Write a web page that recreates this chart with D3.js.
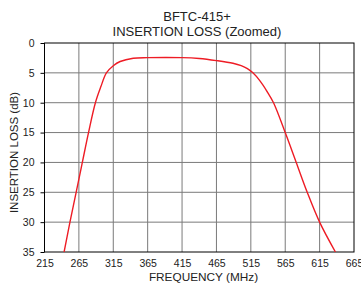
<!DOCTYPE html>
<html>
<head>
<meta charset="utf-8">
<script src="https://cdn.jsdelivr.net/npm/d3@7"></script>
<style>
  body { margin: 0; background: #fff; }
  text { font-family: "Liberation Sans", Arial, sans-serif; fill: #222; }
</style>
</head>
<body>
<svg id="chart"></svg>
<script>
// insertion loss curve
const freqs = [243.5, 252, 261, 270, 279, 289, 297, 305, 315, 325, 344, 365, 415, 440, 465, 489, 501, 510, 518, 528, 538, 548, 565, 581, 597, 615, 638];
const loss  = [35, 30, 25, 20, 15, 10, 7.3, 5, 3.8, 3.1, 2.55, 2.45, 2.45, 2.6, 2.95, 3.4, 3.8, 4.3, 5, 6.3, 8, 10, 15, 20, 25, 30, 35];
const xTicks = [215, 265, 315, 365, 415, 465, 515, 565, 615, 665];
const yTicks = [0, 5, 10, 15, 20, 25, 30, 35];
const titleLines = ['BFTC-415+', 'INSERTION LOSS (Zoomed)'];

const width = 361;
const height = 283;
const margin = {top: 43, right: 7, bottom: 31, left: 44.5};
const w = width - margin.left - margin.right;
const h = height - margin.top - margin.bottom;

const svg = d3.select('#chart')
    .attr('width', width)
    .attr('height', height);

const x = d3.scaleLinear().domain([215, 665]).range([0, w]);
const y = d3.scaleLinear().domain([0, 35]).range([0, h]);

const chart = svg.append('g')
    .attr('transform', `translate(${margin.left},${margin.top})`);

chart.append('defs').append('clipPath')
    .attr('id', 'clip')
  .append('rect')
    .attr('width', w)
    .attr('height', h);

// grid
chart.append('g')
    .selectAll('line')
    .data(xTicks.slice(1, -1))
  .enter().append('line')
    .attr('x1', d => x(d)).attr('x2', d => x(d))
    .attr('y1', 0).attr('y2', h)
    .attr('stroke', '#7a7a7a');

chart.append('g')
    .selectAll('line')
    .data(yTicks.slice(1, -1))
  .enter().append('line')
    .attr('x1', 0).attr('x2', w)
    .attr('y1', d => y(d)).attr('y2', d => y(d))
    .attr('stroke', '#7a7a7a');

// axes
const xAxis = d3.axisBottom(x).tickValues(xTicks).tickSize(0).tickPadding(8);
const yAxis = d3.axisLeft(y).tickValues(yTicks).tickSize(4).tickPadding(6);

chart.append('g')
    .attr('transform', `translate(0,${h})`)
    .call(xAxis)
    .call(g => g.select('.domain').remove())
    .selectAll('text')
    .style('font-size', '10.5px');

chart.append('g')
    .call(yAxis)
    .call(g => g.select('.domain').remove())
    .call(g => g.selectAll('.tick line').attr('stroke', '#000'))
    .selectAll('text')
    .style('font-size', '10.5px');

chart.append('rect')
    .attr('width', w)
    .attr('height', h)
    .attr('fill', 'none')
    .attr('stroke', '#000');

// curve
const line = d3.line()
    .x((d, i) => x(freqs[i]))
    .y(d => y(d))
    .curve(d3.curveCatmullRom.alpha(0.5));

chart.append('path')
    .datum(loss)
    .attr('clip-path', 'url(#clip)')
    .attr('fill', 'none')
    .attr('stroke', '#ee1c25')
    .attr('stroke-width', 1.4)
    .attr('d', line);

// titles
svg.append('text')
    .attr('text-anchor', 'middle')
    .style('font-size', '13px')
  .selectAll('tspan')
    .data(titleLines)
  .enter().append('tspan')
    .attr('x', 197)
    .attr('y', (d, i) => 20.5 + i * 15.5)
    .text(d => d);

svg.append('text')
    .attr('x', 203.5)
    .attr('y', 281)
    .attr('text-anchor', 'middle')
    .style('font-size', '11.8px')
    .text('FREQUENCY (MHz)');

svg.append('text')
    .attr('transform', `translate(18,${margin.top + h / 2 + 5}) rotate(-90)`)
    .attr('text-anchor', 'middle')
    .style('font-size', '11.5px')
    .text('INSERTION LOSS (dB)');
</script>
</body>
</html>
